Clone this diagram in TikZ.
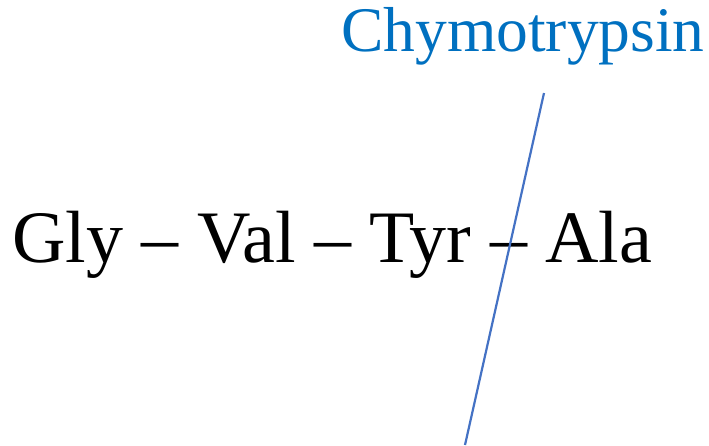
\documentclass[tikz,border=0pt]{standalone}
\usepackage{fontspec}
\setmainfont{Liberation Serif}
\definecolor{labelblue}{RGB}{0,112,192}
\definecolor{lineblue}{RGB}{68,114,196}
\tikzset{
  mainlabel/.style={anchor=base west, inner sep=0pt, font=\fontsize{74}{80}\selectfont},
  enzyme/.style={anchor=base west, inner sep=0pt, text=labelblue, font=\fontsize{63.5}{70}\selectfont},
  cutline/.style={draw=lineblue, line width=2.2pt}
}
\begin{document}
\begin{tikzpicture}[x=1pt,y=-1pt]
\useasboundingbox (0,0) rectangle (709,445);
\node[mainlabel] (peptide) at (12,262) {Gly – Val – Tyr – Ala};
\node[enzyme] (chymo) at (341,51) {Chymotrypsin};
\coordinate (top) at (544,93);
\coordinate (bot) at (465,445);
\draw[cutline] (top) -- (bot);
\end{tikzpicture}
\end{document}
